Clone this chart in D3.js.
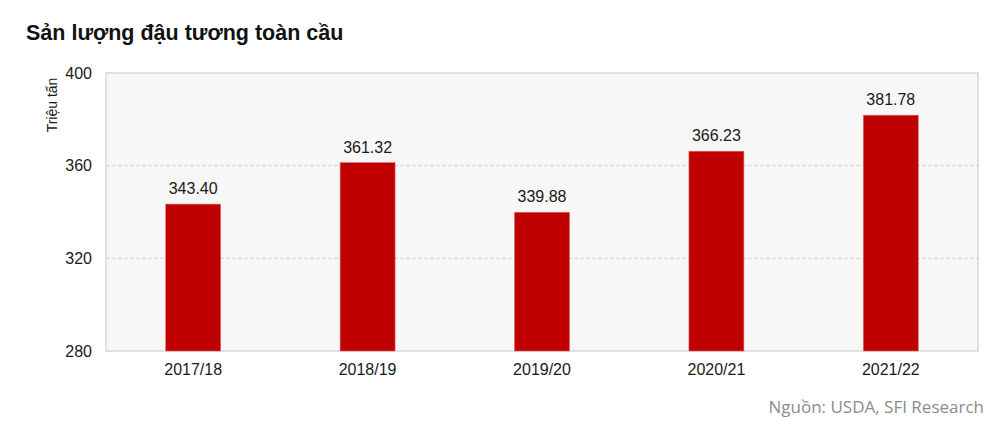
<!DOCTYPE html>
<html lang="vi">
<head>
<meta charset="utf-8">
<title>Sản lượng đậu tương toàn cầu</title>
<script src="https://cdn.jsdelivr.net/npm/d3@7"></script>
<style>
  body { margin: 0; background: #fff; }
  text { font-family: "Liberation Sans", Arial, sans-serif; fill: #1a1a1a; }
</style>
</head>
<body>
<script>
// data
var seasons = ["2017/18", "2018/19", "2019/20", "2020/21", "2021/22"];
var output = [343.40, 361.32, 339.88, 366.23, 381.78];
var yTicks = [280, 320, 360, 400];

var w = 1000, h = 439;
var m = { left: 106, right: 22, top: 73, bottom: 88 };

var svg = d3.select("body").append("svg")
  .attr("width", w)
  .attr("height", h);

// bars ~55px wide, centred in each category
var x = d3.scaleBand()
  .domain(seasons)
  .range([m.left, w - m.right])
  .paddingInner(0.685)
  .paddingOuter(0.3425);

var y = d3.scaleLinear()
  .domain([280, 400])
  .range([h - m.bottom, m.top]);

// plot background
svg.append("rect")
  .attr("x", m.left)
  .attr("y", m.top)
  .attr("width", w - m.left - m.right)
  .attr("height", h - m.top - m.bottom)
  .style("fill", "#f7f7f7")
  .style("stroke", "#d9d9d9")
  .style("stroke-width", 1.5);

// gridlines
svg.selectAll("line.grid")
  .data(yTicks.filter(function(t) { return t > 280 && t < 400; }))
  .enter()
  .append("line")
  .attr("class", "grid")
  .attr("x1", m.left)
  .attr("x2", w - m.right)
  .attr("y1", function(d) { return y(d); })
  .attr("y2", function(d) { return y(d); })
  .style("stroke", "#cfcfcf")
  .style("stroke-width", 1)
  .style("stroke-dasharray", "4,2");

// y axis labels
var yAxis = d3.axisLeft(y).tickValues(yTicks).tickSize(0).tickPadding(14);
var gy = svg.append("g")
  .attr("transform", "translate(" + m.left + ",0)")
  .call(yAxis);
gy.select(".domain").remove();
gy.selectAll("text")
  .style("font-size", "16px")
  .style("font-family", "Liberation Sans, Arial, sans-serif")
  .style("fill", "#1a1a1a");

// x axis labels
var xAxis = d3.axisBottom(x).tickSize(0).tickPadding(13);
var gx = svg.append("g")
  .attr("transform", "translate(0," + (h - m.bottom) + ")")
  .call(xAxis);
gx.select(".domain").remove();
gx.selectAll("text")
  .style("font-size", "16px")
  .style("font-family", "Liberation Sans, Arial, sans-serif")
  .style("fill", "#1a1a1a");

// bars
svg.selectAll("rect.bar")
  .data(output)
  .enter()
  .append("rect")
  .attr("class", "bar")
  .attr("x", function(d, i) { return x(seasons[i]); })
  .attr("width", x.bandwidth())
  .attr("y", function(d) { return y(d); })
  .attr("height", function(d) { return y(280) - y(d); })
  .style("fill", "#c00000")
  .style("stroke", "#e06666")
  .style("stroke-width", 0.6);

// value labels
svg.selectAll("text.val")
  .data(output)
  .enter()
  .append("text")
  .attr("class", "val")
  .attr("x", function(d, i) { return x(seasons[i]) + x.bandwidth() / 2; })
  .attr("y", function(d) { return y(d) - 10; })
  .attr("text-anchor", "middle")
  .style("font-size", "16px")
  .text(function(d) { return d.toFixed(2); });

// title
svg.append("text")
  .attr("x", 26)
  .attr("y", 40)
  .style("font-size", "21.5px")
  .style("font-weight", "bold")
  .style("fill", "#111")
  .text("Sản lượng đậu tương toàn cầu");

// y axis title
svg.append("text")
  .attr("transform", "translate(57,105) rotate(-90)")
  .attr("text-anchor", "middle")
  .style("font-size", "14px")
  .text("Triệu tấn");

// source
svg.append("text")
  .attr("x", 984)
  .attr("y", 413)
  .attr("text-anchor", "end")
  .style("font-family", "Open Sans, sans-serif")
  .style("font-size", "17px")
  .style("fill", "#8c8c8c")
  .text("Nguồn: USDA, SFI Research");
</script>
</body>
</html>
